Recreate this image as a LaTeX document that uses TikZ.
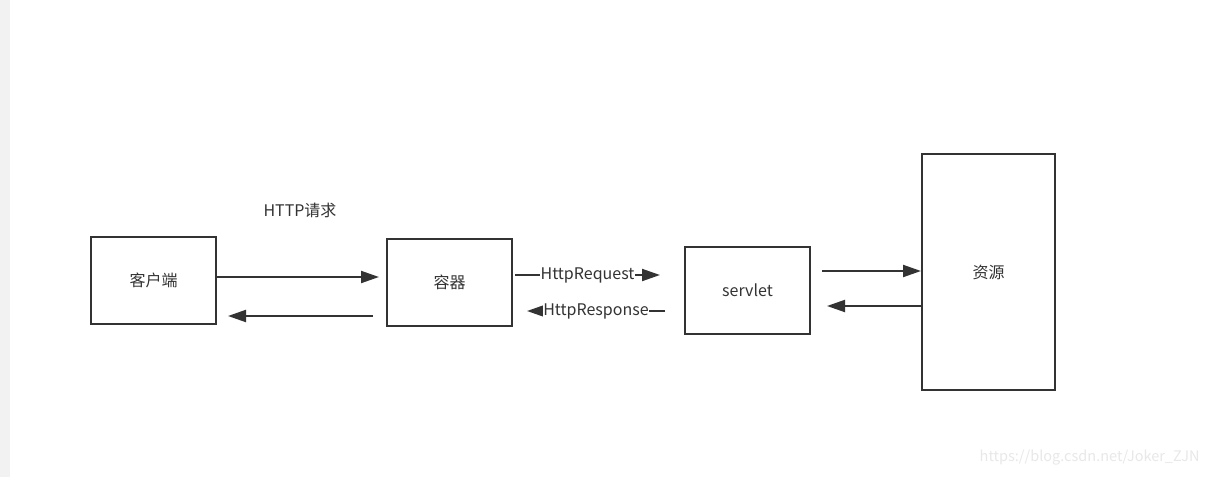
\documentclass[tikz,border=0pt]{standalone}
\usepackage{fontspec}
\setmainfont{Noto Sans CJK SC}
\usetikzlibrary{arrows.meta}
\definecolor{ink}{HTML}{333333}
\definecolor{strip}{HTML}{F2F2F2}
\definecolor{wm}{HTML}{E8E8E8}
\tikzset{
  x=1pt,y=-1pt,
  box/.style={draw=ink,line width=2pt,minimum width=125pt,minimum height=87pt,inner sep=0pt,font=\fontsize{16}{19}\selectfont,text=ink},
  flow/.style={draw=ink,line width=2pt,-{Triangle[length=18pt,width=12pt]}},
  lbl/.style={font=\fontsize{16}{19}\selectfont,text=ink,inner sep=1pt},
  onl/.style={lbl,fill=white,inner sep=0.5pt}
}
\begin{document}
\begin{tikzpicture}
\useasboundingbox (0,0) rectangle (1210,477);
\fill[white] (0,0) rectangle (1210,477);
\fill[strip] (0,0) rectangle (10,477);
\node[box] (client) at (153.5,280.5) {客户端};
\node[box] (cont) at (449.5,282) {容器};
\node[box] (serv) at (747.5,290.5) {servlet};
\node[box,minimum width=133pt,minimum height=236pt] (res) at (988.5,272) {};
\node[lbl] (restxt) at (988.5,272) {资源};
\node[lbl] (httpreq) at (300,210) {HTTP请求};
\coordinate (a1) at (client.east |- 0,277);
\coordinate (a2) at (379,277);
\draw[flow] (a1) -- (a2);
\coordinate (b1) at (373,316);
\coordinate (b2) at (228,316);
\draw[flow] (b1) -- (b2);
\coordinate (c1) at (515,275);
\coordinate (c2) at (660,275);
\draw[flow] (c1) -- node[onl] (reqlbl) {HttpRequest} (c2);
\coordinate (d1) at (665,311);
\coordinate (d2) at (527,311);
\draw[flow] (d1) -- node[onl] (resplbl) {HttpResponse} (d2);
\coordinate (e1) at (822,271);
\coordinate (e2) at (res.west |- 0,271);
\draw[flow] (e1) -- (e2);
\coordinate (f1) at (res.west |- 0,306);
\coordinate (f2) at (827,306);
\draw[flow] (f1) -- (f2);
\node[font=\fontsize{14.5}{17}\selectfont,text=wm,anchor=east] (wmark) at (1203,458) {https://blog.csdn.net/Joker\_ZJN};
\end{tikzpicture}
\end{document}
